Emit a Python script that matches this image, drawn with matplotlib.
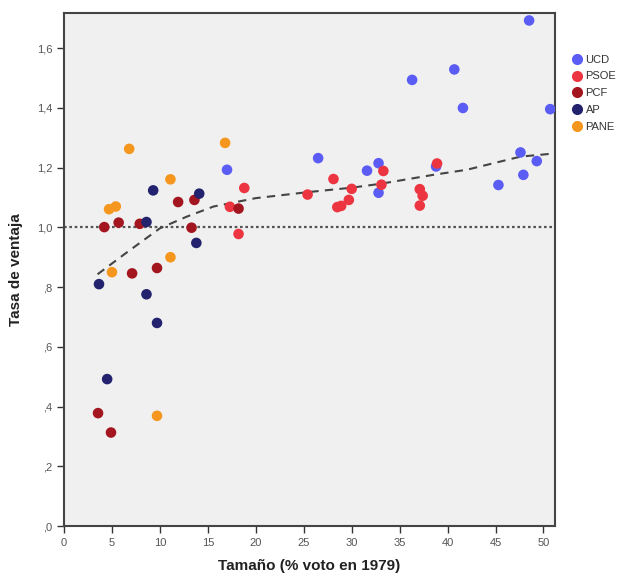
import matplotlib
matplotlib.use("Agg")
import matplotlib.pyplot as plt
from matplotlib.ticker import FuncFormatter, MultipleLocator
from matplotlib.lines import Line2D

plt.rcParams['font.family'] = ['Liberation Sans', 'DejaVu Sans']

parties = ["UCD", "PSOE", "PCF", "AP", "PANE"]
colors = {"UCD": "#5b5cf4", "PSOE": "#ec3540", "PCF": "#a3151f",
          "AP": "#22226e", "PANE": "#f5961e"}

ucd_x = [48.5, 36.3, 40.7, 41.6, 50.7, 17.0, 26.5, 31.6, 32.8, 32.8, 38.8, 47.6, 49.3, 47.9, 45.3]
ucd_y = [1.693, 1.494, 1.529, 1.400, 1.396, 1.193, 1.232, 1.190, 1.215, 1.116, 1.204, 1.251, 1.222, 1.176, 1.142]

psoe_x = [18.8, 17.3, 18.2, 25.4, 28.1, 33.3, 38.9, 30.0, 29.7, 28.5, 28.9, 33.1, 37.1, 37.4, 37.1]
psoe_y = [1.132, 1.069, 0.978, 1.110, 1.162, 1.189, 1.214, 1.129, 1.092, 1.068, 1.072, 1.143, 1.128, 1.106, 1.073]

pcf_x = [11.9, 13.6, 18.2, 4.2, 5.7, 7.9, 13.3, 7.1, 9.7, 3.55, 4.9]
pcf_y = [1.085, 1.092, 1.063, 1.001, 1.016, 1.012, 0.999, 0.846, 0.864, 0.378, 0.313]

ap_x = [9.3, 14.1, 8.6, 13.8, 3.65, 8.6, 9.7, 4.5]
ap_y = [1.124, 1.113, 1.018, 0.948, 0.810, 0.776, 0.680, 0.492]

pane_x = [16.8, 6.8, 11.1, 4.7, 5.4, 11.1, 5.0, 9.7]
pane_y = [1.283, 1.263, 1.161, 1.061, 1.070, 0.900, 0.850, 0.369]

fit_x = [3.5, 6.5, 10.0, 12.8, 15.6, 20.0, 25.4, 30.0, 33.0, 38.5, 42.0, 47.6, 50.6]
fit_y = [0.843, 0.915, 0.997, 1.036, 1.070, 1.098, 1.118, 1.133, 1.146, 1.176, 1.193, 1.237, 1.246]

data = {"UCD": (ucd_x, ucd_y), "PSOE": (psoe_x, psoe_y), "PCF": (pcf_x, pcf_y),
        "AP": (ap_x, ap_y), "PANE": (pane_x, pane_y)}

fig = plt.figure(figsize=(6.21, 5.81), dpi=100)
ax = fig.add_axes([64/621, 55/581, 491/621, 513/581])
ax.set_facecolor("#f0f0f0")

ax.axhline(1.0, color="#555555", lw=1.6, ls=(0, (1.2, 1.2)), zorder=1)
ax.plot(fit_x, fit_y, color="#444444", lw=1.5, ls=(0, (4, 3)), zorder=2)

for p in parties:
    xs, ys = data[p]
    ax.scatter(xs, ys, s=58, color=colors[p], edgecolors="none", zorder=3, label=p)

ax.set_xlim(0, 51.2)
ax.set_ylim(0, 1.718)
ax.xaxis.set_major_locator(MultipleLocator(5))
ax.yaxis.set_major_locator(MultipleLocator(0.2))

def yfmt(v, pos):
    s = f"{v:.1f}".replace(".", ",")
    if s.startswith("0"):
        s = s[1:]
    return s

ax.yaxis.set_major_formatter(FuncFormatter(yfmt))
ax.tick_params(direction="out", length=5, width=1, colors="#333333",
               labelsize=8, labelcolor="#555555")
for sp in ax.spines.values():
    sp.set_color("#444444")
    sp.set_linewidth(1.5)

ax.set_xlabel("Tamaño (% voto en 1979)", fontsize=11, fontweight="bold", color="#222222", labelpad=8)
ax.set_ylabel("Tasa de ventaja", fontsize=11, fontweight="bold", color="#222222", labelpad=10)

handles = [Line2D([0], [0], marker="o", ls="none", markersize=8, markerfacecolor=colors[p],
                  markeredgecolor="none", label=p) for p in parties]
fig.legend(handles=handles, loc="upper left", bbox_to_anchor=(565/621, 1 - 49/581),
           frameon=False, fontsize=8, handletextpad=0.15, labelspacing=0.62,
           handlelength=1.2, borderpad=0, labelcolor="#333333")

fig.savefig("out.png", dpi=100)
